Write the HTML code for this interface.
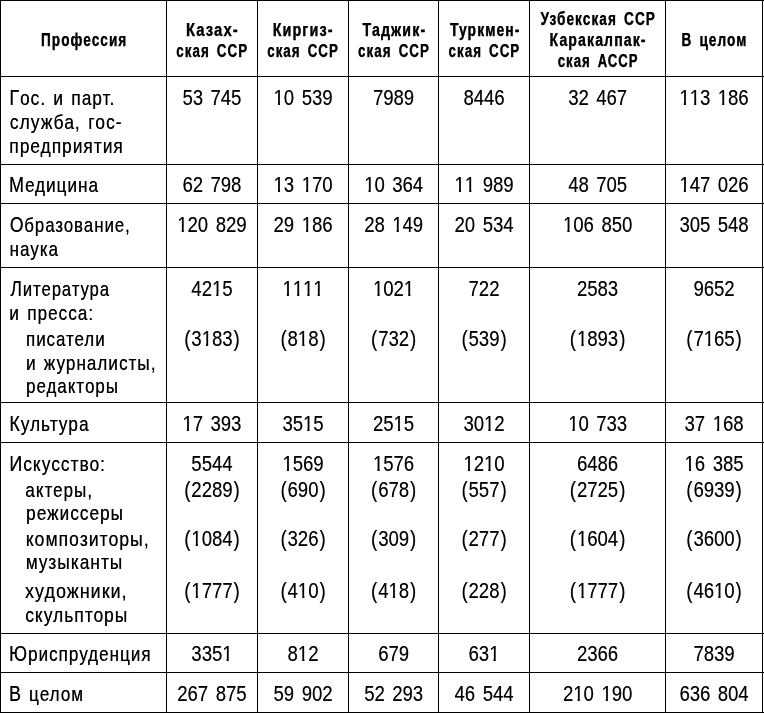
<!DOCTYPE html>
<html lang="ru"><head><meta charset="utf-8"><title>Таблица</title>
<style>
html,body{margin:0;padding:0;background:#fff;}
html{filter:grayscale(1);}
body{width:764px;height:713px;position:relative;overflow:hidden;font-family:"Liberation Sans",sans-serif;color:#000;}
.v,.h{position:absolute;background:#000;}
.v{top:0;width:1px;height:713px;}
.h{left:0;height:1px;width:764px;}
.t{position:absolute;white-space:nowrap;transform-origin:0 0;line-height:30px;display:block;}
.hd{font-size:18px;font-weight:bold;letter-spacing:1.5px;word-spacing:3px;-webkit-text-stroke:0.25px #000;text-shadow:0.3px 0 0 rgba(0,0,0,.5);}
.lb{font-size:21px;letter-spacing:1.3px;word-spacing:1.8px;text-shadow:0.3px 0 0 rgba(0,0,0,.75);}
.cap{font-size:22px;}
.dg{font-size:22.5px;word-spacing:3.0px;text-shadow:0.3px 0 0 rgba(0,0,0,.5);}
.pl{margin-right:1.3px;}
.pr{margin-left:1.3px;}
.o{display:inline-block;clip-path:polygon(0 0,100% 0,100% 19.72px,7.90px 19.72px,7.90px 100%,5.41px 100%,5.41px 19.72px,0 19.72px);}
</style></head><body>
<div class="v" style="left:0px"></div>
<div class="v" style="left:166px"></div>
<div class="v" style="left:257px"></div>
<div class="v" style="left:348px"></div>
<div class="v" style="left:438px"></div>
<div class="v" style="left:529px"></div>
<div class="v" style="left:665px"></div>
<div class="v" style="left:762px"></div>
<div class="h" style="top:0px"></div>
<div class="h" style="top:76px"></div>
<div class="h" style="top:164px"></div>
<div class="h" style="top:203px"></div>
<div class="h" style="top:267px"></div>
<div class="h" style="top:402px"></div>
<div class="h" style="top:442px"></div>
<div class="h" style="top:633px"></div>
<div class="h" style="top:672px"></div>
<div class="h" style="top:712px"></div>
<div class="t hd" style="left:41px;top:25px;transform:translateX(0.06px) scaleX(0.7479)">Профессия</div>
<div class="t hd" style="left:185px;top:15px;transform:translateX(0.89px) scaleX(0.8147)">Казах-</div>
<div class="t hd" style="left:176px;top:36px;transform:translateX(0.27px) scaleX(0.7368)">ская ССР</div>
<div class="t hd" style="left:272px;top:15px;transform:translateX(0.68px) scaleX(0.7908)">Киргиз-</div>
<div class="t hd" style="left:267px;top:36px;transform:translateX(0.16px) scaleX(0.7358)">ская ССР</div>
<div class="t hd" style="left:362px;top:15px;transform:translateX(0.52px) scaleX(0.7839)">Таджик-</div>
<div class="t hd" style="left:358px;top:36px;transform:translateX(0.12px) scaleX(0.7365)">ская ССР</div>
<div class="t hd" style="left:449px;top:15px;transform:translateX(0.98px) scaleX(0.7638)">Туркмен-</div>
<div class="t hd" style="left:448px;top:36px;transform:translateX(0.57px) scaleX(0.7354)">ская ССР</div>
<div class="t hd" style="left:540px;top:4px;transform:translateX(0.61px) scaleX(0.7500)">Узбекская ССР</div>
<div class="t hd" style="left:549px;top:25px;transform:translateX(0.51px) scaleX(0.7771)">Каракалпак-</div>
<div class="t hd" style="left:557px;top:46px;transform:translateX(0.76px) scaleX(0.7245)">ская АССР</div>
<div class="t hd" style="left:681px;top:25px;transform:translateX(0.39px) scaleX(0.7516)">В целом</div>
<div class="t lb" style="left:9px;top:83px;transform:translateX(0.18px) scaleX(0.8172)"><span class="cap">Г</span>ос. и парт.</div>
<div class="t lb" style="left:9px;top:107px;transform:translateX(0.78px) scaleX(0.8260)">служба, гос-</div>
<div class="t lb" style="left:9px;top:131px;transform:translateX(0.30px) scaleX(0.8191)">предприятия</div>
<div class="t lb" style="left:8px;top:170px;transform:translateX(0.98px) scaleX(0.8103)"><span class="cap">М</span>едицина</div>
<div class="t lb" style="left:9px;top:210px;transform:translateX(0.64px) scaleX(0.7946)"><span class="cap">О</span>бразование,</div>
<div class="t lb" style="left:9px;top:234px;transform:translateX(0.55px) scaleX(0.8044)">наука</div>
<div class="t lb" style="left:10px;top:274px;transform:translateX(0.38px) scaleX(0.7868)"><span class="cap">Л</span>итература</div>
<div class="t lb" style="left:9px;top:298px;transform:translateX(0.37px) scaleX(0.8118)">и пресса:</div>
<div class="t lb" style="left:26px;top:324px;transform:translateX(0.12px) scaleX(0.7976)">писатели</div>
<div class="t lb" style="left:26px;top:348px;transform:translateX(0.03px) scaleX(0.8109)">и журналисты,</div>
<div class="t lb" style="left:26px;top:371px;transform:translateX(0.06px) scaleX(0.8011)">редакторы</div>
<div class="t lb" style="left:9px;top:409px;transform:translateX(0.19px) scaleX(0.8172)"><span class="cap">К</span>ультура</div>
<div class="t lb" style="left:9px;top:449px;transform:translateX(0.16px) scaleX(0.8197)"><span class="cap">И</span>скусство:</div>
<div class="t lb" style="left:25px;top:475px;transform:translateX(0.24px) scaleX(0.8080)">актеры,</div>
<div class="t lb" style="left:26px;top:498px;transform:translateX(0.06px) scaleX(0.8156)">режиссеры</div>
<div class="t lb" style="left:25px;top:524px;transform:translateX(0.66px) scaleX(0.8322)">композиторы,</div>
<div class="t lb" style="left:25px;top:547px;transform:translateX(0.63px) scaleX(0.8188)">музыканты</div>
<div class="t lb" style="left:25px;top:576px;transform:translateX(0.08px) scaleX(0.8461)">художники,</div>
<div class="t lb" style="left:25px;top:600px;transform:translateX(0.13px) scaleX(0.8229)">скульпторы</div>
<div class="t lb" style="left:8px;top:639px;transform:translateX(0.98px) scaleX(0.8087)"><span class="cap">Ю</span>риспруденция</div>
<div class="t lb" style="left:8px;top:679px;transform:translateX(0.99px) scaleX(0.8078)"><span class="cap">В</span> целом</div>
<div class="t dg" style="left:182px;top:83px;transform:translateX(0.45px) scaleX(0.8200)">53 745</div>
<div class="t dg" style="left:273px;top:83px;transform:translateX(0.55px) scaleX(0.8200)"><span class="o">1</span>0 539</div>
<div class="t dg" style="left:373px;top:83px;transform:translateX(0.07px) scaleX(0.8200)">7989</div>
<div class="t dg" style="left:463px;top:83px;transform:translateX(0.47px) scaleX(0.8200)">8446</div>
<div class="t dg" style="left:568px;top:83px;transform:translateX(0.15px) scaleX(0.8200)">32 467</div>
<div class="t dg" style="left:679px;top:83px;transform:translateX(0.42px) scaleX(0.8200)"><span class="o">1</span><span class="o">1</span>3 <span class="o">1</span>86</div>
<div class="t dg" style="left:182px;top:170px;transform:translateX(0.45px) scaleX(0.8200)">62 798</div>
<div class="t dg" style="left:273px;top:170px;transform:translateX(0.55px) scaleX(0.8200)"><span class="o">1</span>3 <span class="o">1</span>70</div>
<div class="t dg" style="left:364px;top:170px;transform:translateX(0.15px) scaleX(0.8200)"><span class="o">1</span>0 364</div>
<div class="t dg" style="left:454px;top:170px;transform:translateX(0.55px) scaleX(0.8200)"><span class="o">1</span><span class="o">1</span> 989</div>
<div class="t dg" style="left:568px;top:170px;transform:translateX(0.15px) scaleX(0.8200)">48 705</div>
<div class="t dg" style="left:679px;top:170px;transform:translateX(0.42px) scaleX(0.8200)"><span class="o">1</span>47 026</div>
<div class="t dg" style="left:177px;top:210px;transform:translateX(0.32px) scaleX(0.8200)"><span class="o">1</span>20 829</div>
<div class="t dg" style="left:273px;top:210px;transform:translateX(0.55px) scaleX(0.8200)">29 <span class="o">1</span>86</div>
<div class="t dg" style="left:364px;top:210px;transform:translateX(0.15px) scaleX(0.8200)">28 <span class="o">1</span>49</div>
<div class="t dg" style="left:454px;top:210px;transform:translateX(0.55px) scaleX(0.8200)">20 534</div>
<div class="t dg" style="left:563px;top:210px;transform:translateX(0.02px) scaleX(0.8200)"><span class="o">1</span>06 850</div>
<div class="t dg" style="left:679px;top:210px;transform:translateX(0.42px) scaleX(0.8200)">305 548</div>
<div class="t dg" style="left:191px;top:274px;transform:translateX(0.37px) scaleX(0.8200)">42<span class="o">1</span>5</div>
<div class="t dg" style="left:282px;top:274px;transform:translateX(0.47px) scaleX(0.8200)"><span class="o">1</span><span class="o">1</span><span class="o">1</span><span class="o">1</span></div>
<div class="t dg" style="left:373px;top:274px;transform:translateX(0.07px) scaleX(0.8200)"><span class="o">1</span>02<span class="o">1</span></div>
<div class="t dg" style="left:468px;top:274px;transform:translateX(0.61px) scaleX(0.8200)">722</div>
<div class="t dg" style="left:577px;top:274px;transform:translateX(0.07px) scaleX(0.8200)">2583</div>
<div class="t dg" style="left:693px;top:274px;transform:translateX(0.47px) scaleX(0.8200)">9652</div>
<div class="t dg" style="left:184px;top:324px;transform:translateX(0.16px) scaleX(0.8200)"><span class="pl">(</span>3<span class="o">1</span>83<span class="pr">)</span></div>
<div class="t dg" style="left:280px;top:324px;transform:translateX(0.39px) scaleX(0.8200)"><span class="pl">(</span>8<span class="o">1</span>8<span class="pr">)</span></div>
<div class="t dg" style="left:370px;top:324px;transform:translateX(0.99px) scaleX(0.8200)"><span class="pl">(</span>732<span class="pr">)</span></div>
<div class="t dg" style="left:461px;top:324px;transform:translateX(0.39px) scaleX(0.8200)"><span class="pl">(</span>539<span class="pr">)</span></div>
<div class="t dg" style="left:569px;top:324px;transform:translateX(0.86px) scaleX(0.8200)"><span class="pl">(</span><span class="o">1</span>893<span class="pr">)</span></div>
<div class="t dg" style="left:686px;top:324px;transform:translateX(0.26px) scaleX(0.8200)"><span class="pl">(</span>7<span class="o">1</span>65<span class="pr">)</span></div>
<div class="t dg" style="left:182px;top:409px;transform:translateX(0.45px) scaleX(0.8200)"><span class="o">1</span>7 393</div>
<div class="t dg" style="left:282px;top:409px;transform:translateX(0.47px) scaleX(0.8200)">35<span class="o">1</span>5</div>
<div class="t dg" style="left:373px;top:409px;transform:translateX(0.07px) scaleX(0.8200)">25<span class="o">1</span>5</div>
<div class="t dg" style="left:463px;top:409px;transform:translateX(0.47px) scaleX(0.8200)">30<span class="o">1</span>2</div>
<div class="t dg" style="left:568px;top:409px;transform:translateX(0.15px) scaleX(0.8200)"><span class="o">1</span>0 733</div>
<div class="t dg" style="left:684px;top:409px;transform:translateX(0.55px) scaleX(0.8200)">37 <span class="o">1</span>68</div>
<div class="t dg" style="left:191px;top:449px;transform:translateX(0.37px) scaleX(0.8200)">5544</div>
<div class="t dg" style="left:282px;top:449px;transform:translateX(0.47px) scaleX(0.8200)"><span class="o">1</span>569</div>
<div class="t dg" style="left:373px;top:449px;transform:translateX(0.07px) scaleX(0.8200)"><span class="o">1</span>576</div>
<div class="t dg" style="left:463px;top:449px;transform:translateX(0.47px) scaleX(0.8200)"><span class="o">1</span>2<span class="o">1</span>0</div>
<div class="t dg" style="left:577px;top:449px;transform:translateX(0.07px) scaleX(0.8200)">6486</div>
<div class="t dg" style="left:684px;top:449px;transform:translateX(0.55px) scaleX(0.8200)"><span class="o">1</span>6 385</div>
<div class="t dg" style="left:184px;top:475px;transform:translateX(0.16px) scaleX(0.8200)"><span class="pl">(</span>2289<span class="pr">)</span></div>
<div class="t dg" style="left:280px;top:475px;transform:translateX(0.39px) scaleX(0.8200)"><span class="pl">(</span>690<span class="pr">)</span></div>
<div class="t dg" style="left:370px;top:475px;transform:translateX(0.99px) scaleX(0.8200)"><span class="pl">(</span>678<span class="pr">)</span></div>
<div class="t dg" style="left:461px;top:475px;transform:translateX(0.39px) scaleX(0.8200)"><span class="pl">(</span>557<span class="pr">)</span></div>
<div class="t dg" style="left:569px;top:475px;transform:translateX(0.86px) scaleX(0.8200)"><span class="pl">(</span>2725<span class="pr">)</span></div>
<div class="t dg" style="left:686px;top:475px;transform:translateX(0.26px) scaleX(0.8200)"><span class="pl">(</span>6939<span class="pr">)</span></div>
<div class="t dg" style="left:184px;top:524px;transform:translateX(0.16px) scaleX(0.8200)"><span class="pl">(</span><span class="o">1</span>084<span class="pr">)</span></div>
<div class="t dg" style="left:280px;top:524px;transform:translateX(0.39px) scaleX(0.8200)"><span class="pl">(</span>326<span class="pr">)</span></div>
<div class="t dg" style="left:370px;top:524px;transform:translateX(0.99px) scaleX(0.8200)"><span class="pl">(</span>309<span class="pr">)</span></div>
<div class="t dg" style="left:461px;top:524px;transform:translateX(0.39px) scaleX(0.8200)"><span class="pl">(</span>277<span class="pr">)</span></div>
<div class="t dg" style="left:569px;top:524px;transform:translateX(0.86px) scaleX(0.8200)"><span class="pl">(</span><span class="o">1</span>604<span class="pr">)</span></div>
<div class="t dg" style="left:686px;top:524px;transform:translateX(0.26px) scaleX(0.8200)"><span class="pl">(</span>3600<span class="pr">)</span></div>
<div class="t dg" style="left:184px;top:576px;transform:translateX(0.16px) scaleX(0.8200)"><span class="pl">(</span><span class="o">1</span>777<span class="pr">)</span></div>
<div class="t dg" style="left:280px;top:576px;transform:translateX(0.39px) scaleX(0.8200)"><span class="pl">(</span>4<span class="o">1</span>0<span class="pr">)</span></div>
<div class="t dg" style="left:370px;top:576px;transform:translateX(0.99px) scaleX(0.8200)"><span class="pl">(</span>4<span class="o">1</span>8<span class="pr">)</span></div>
<div class="t dg" style="left:461px;top:576px;transform:translateX(0.39px) scaleX(0.8200)"><span class="pl">(</span>228<span class="pr">)</span></div>
<div class="t dg" style="left:569px;top:576px;transform:translateX(0.86px) scaleX(0.8200)"><span class="pl">(</span><span class="o">1</span>777<span class="pr">)</span></div>
<div class="t dg" style="left:686px;top:576px;transform:translateX(0.26px) scaleX(0.8200)"><span class="pl">(</span>46<span class="o">1</span>0<span class="pr">)</span></div>
<div class="t dg" style="left:191px;top:639px;transform:translateX(0.37px) scaleX(0.8200)">335<span class="o">1</span></div>
<div class="t dg" style="left:287px;top:639px;transform:translateX(0.61px) scaleX(0.8200)">8<span class="o">1</span>2</div>
<div class="t dg" style="left:378px;top:639px;transform:translateX(0.21px) scaleX(0.8200)">679</div>
<div class="t dg" style="left:468px;top:639px;transform:translateX(0.61px) scaleX(0.8200)">63<span class="o">1</span></div>
<div class="t dg" style="left:577px;top:639px;transform:translateX(0.07px) scaleX(0.8200)">2366</div>
<div class="t dg" style="left:693px;top:639px;transform:translateX(0.47px) scaleX(0.8200)">7839</div>
<div class="t dg" style="left:177px;top:679px;transform:translateX(0.32px) scaleX(0.8200)">267 875</div>
<div class="t dg" style="left:273px;top:679px;transform:translateX(0.55px) scaleX(0.8200)">59 902</div>
<div class="t dg" style="left:364px;top:679px;transform:translateX(0.15px) scaleX(0.8200)">52 293</div>
<div class="t dg" style="left:454px;top:679px;transform:translateX(0.55px) scaleX(0.8200)">46 544</div>
<div class="t dg" style="left:563px;top:679px;transform:translateX(0.02px) scaleX(0.8200)">2<span class="o">1</span>0 <span class="o">1</span>90</div>
<div class="t dg" style="left:679px;top:679px;transform:translateX(0.42px) scaleX(0.8200)">636 804</div>
</body></html>
